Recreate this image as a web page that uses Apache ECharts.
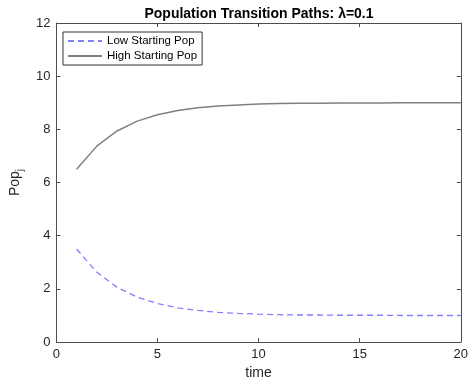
<!DOCTYPE html>
<html>
<head>
<meta charset="utf-8">
<script src="https://cdn.jsdelivr.net/npm/echarts@6/dist/echarts.min.js"></script>
<style>
html, body { margin: 0; padding: 0; background: #fff; }
#chart { width: 471px; height: 385px; }
</style>
</head>
<body>
<div id="chart"></div>
<script>
// values
var time = [1, 2, 3, 4, 5, 6, 7, 8, 9, 10, 11, 12, 13, 14, 15, 16, 17, 18, 19, 20];
var lowPop = [3.5, 2.63, 2.06, 1.69, 1.45, 1.29, 1.19, 1.12, 1.08, 1.05, 1.03, 1.02, 1.02, 1.01, 1.01, 1.01, 1.0, 1.0, 1.0, 1.0];
var highPop = [6.5, 7.37, 7.94, 8.31, 8.55, 8.71, 8.81, 8.88, 8.92, 8.95, 8.97, 8.98, 8.98, 8.99, 8.99, 8.99, 9.0, 9.0, 9.0, 9.0];

function pairs(xs, ys) {
	var out = [];
	for (var i = 0; i < xs.length; i++) {
		out.push([xs[i], ys[i]]);
	}
	return out;
}

var font = 'Liberation Sans, Arial, sans-serif';
var axisColor = '#4d4d4d';
var textColor = '#262626';

function boxAxis(pos, isX, show) {
	var ax = {
		type: 'value',
		position: pos,
		min: 0,
		max: isX ? 20 : 12,
		interval: isX ? 5 : 2,
		axisLine: { show: true, onZero: false, lineStyle: { color: axisColor, width: 1 } },
		axisTick: { show: true, inside: true, length: 4, lineStyle: { color: axisColor } },
		axisLabel: { show: show, color: textColor, fontFamily: font, fontSize: 13, margin: 6 },
		splitLine: { show: false }
	};
	return ax;
}

var xMain = boxAxis('bottom', true, true);
xMain.name = 'time';
xMain.nameLocation = 'middle';
xMain.nameGap = 23;
xMain.nameTextStyle = { color: textColor, fontFamily: font, fontSize: 14 };

var yMain = boxAxis('left', false, true);
yMain.name = '{a|Pop}{b|j}';
yMain.nameLocation = 'middle';
yMain.nameGap = 28;
yMain.nameTextStyle = {
	color: textColor,
	fontFamily: font,
	rich: {
		a: { fontSize: 14, fontFamily: font, color: textColor },
		b: { fontSize: 10, fontFamily: font, color: textColor, padding: [10, 0, 0, 0] }
	}
};

var chart = echarts.init(document.getElementById('chart'));
chart.setOption({
	animation: false,
	backgroundColor: '#fff',
	title: {
		text: 'Population Transition Paths: \u03bb=0.1',
		left: 254,
		textAlign: 'center',
		top: 2,
		textStyle: { fontFamily: font, fontSize: 14, fontWeight: 'bold', color: '#000' }
	},
	legend: {
		orient: 'vertical',
		left: 63,
		top: 32,
		padding: [3, 5, 3, 4],
		itemGap: 3,
		itemWidth: 34,
		itemHeight: 12,
		borderColor: '#333',
		borderWidth: 1,
		borderRadius: 0,
		backgroundColor: '#fff',
		itemStyle: { opacity: 0 },
		textStyle: { fontFamily: font, fontSize: 11.5, color: '#000' },
		data: ['Low Starting Pop', 'High Starting Pop']
	},
	grid: { left: 53, right: 8, top: 23, bottom: 38, containLabel: false },
	xAxis: [xMain, boxAxis('top', true, false)],
	yAxis: [yMain, boxAxis('right', false, false)],
	series: [
		{
			name: 'Low Starting Pop',
			type: 'line',
			symbol: 'none',
			data: pairs(time, lowPop),
			lineStyle: { color: '#7f7fff', width: 1.3, type: [6, 4] },
			itemStyle: { color: '#7f7fff' }
		},
		{
			name: 'High Starting Pop',
			type: 'line',
			symbol: 'none',
			data: pairs(time, highPop),
			lineStyle: { color: '#808080', width: 1.5 },
			itemStyle: { color: '#808080' }
		}
	]
});
</script>
</body>
</html>
